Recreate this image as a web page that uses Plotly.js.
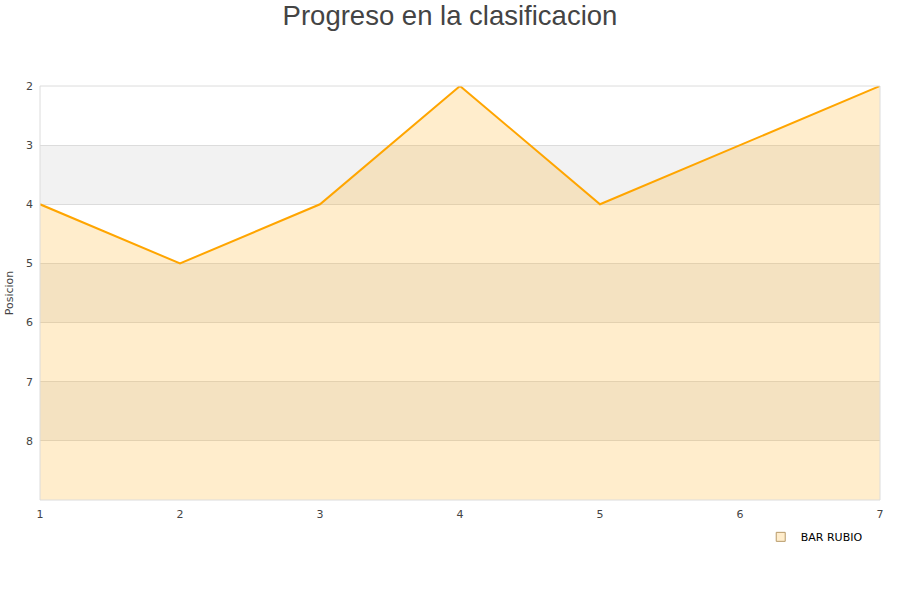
<!DOCTYPE html>
<html>
<head>
<meta charset="utf-8">
<script src="https://cdn.plot.ly/plotly-3.0.1.min.js"></script>
<style>html,body{margin:0;padding:0;background:#fff}#chart{width:900px;height:600px}</style>
</head>
<body>
<div id="chart"></div>
<script>
const jornadas = [1, 2, 3, 4, 5, 6, 7];
const posicion = [4, 5, 4, 2, 4, 3, 2];
const equipo = "BAR RUBIO";
const yTicks = [2, 3, 4, 5, 6, 7, 8];
const yBottom = 9;
const bandas = [[3, 4], [5, 6], [7, 8]];

const base = {
  x: jornadas,
  y: jornadas.map(() => yBottom),
  mode: 'lines',
  line: {width: 0, color: 'rgba(0,0,0,0)'},
  hoverinfo: 'skip',
  showlegend: false
};
const serie = {
  x: jornadas,
  y: posicion,
  mode: 'lines',
  fill: 'tonexty',
  fillcolor: 'rgba(255,165,0,0.2)',
  line: {color: '#ffa500', width: 2},
  name: equipo,
  showlegend: false
};
const leyenda = {
  x: [null], y: [null],
  mode: 'markers',
  marker: {symbol: 'square', size: 9, color: '#ffedcc', line: {color: '#b89a6a', width: 1}},
  name: equipo,
  showlegend: true
};

const shapes = bandas.map(b => ({
  type: 'rect', xref: 'paper', yref: 'y', x0: 0, x1: 1, y0: b[0], y1: b[1],
  fillcolor: '#f2f2f2', line: {width: 0}, layer: 'below'
}));
shapes.push({type: 'rect', xref: 'paper', yref: 'paper', x0: 0, x1: 1, y0: 0, y1: 1,
  line: {color: '#dcdcdc', width: 1}, fillcolor: 'rgba(0,0,0,0)', layer: 'above'});

const layout = {
  width: 900, height: 600,
  margin: {l: 40, r: 20, t: 86, b: 100},
  paper_bgcolor: '#fff', plot_bgcolor: '#fff',
  font: {family: 'DejaVu Sans, sans-serif', size: 11, color: '#444'},
  title: {text: 'Progreso en la clasificacion', x: 0.5, xanchor: 'center', y: 0.99, yanchor: 'top',
    font: {family: 'Liberation Sans, Arial, sans-serif', size: 27.5, color: '#444'}},
  xaxis: {range: [1, 7], tickvals: jornadas, showgrid: false, zeroline: false, showline: false,
    ticks: '', ticklabelstandoff: 6, tickfont: {size: 11, color: '#444'}},
  yaxis: {range: [yBottom, 2], tickvals: yTicks, showgrid: true, gridcolor: '#dcdcdc', zeroline: false,
    showline: false, ticks: '', ticklabelstandoff: 6, tickfont: {size: 11, color: '#444'},
    title: {text: 'Posicion', font: {size: 11, color: '#444'}, standoff: 10}},
  showlegend: true,
  legend: {x: 0.858, xanchor: 'left', y: -0.089, yanchor: 'middle', orientation: 'h',
    font: {family: 'DejaVu Sans, sans-serif', size: 11, color: '#000'}, bgcolor: 'rgba(0,0,0,0)'},
  shapes: shapes
};

Plotly.newPlot('chart', [base, serie, leyenda], layout, {displayModeBar: false, staticPlot: true});
</script>
</body>
</html>
